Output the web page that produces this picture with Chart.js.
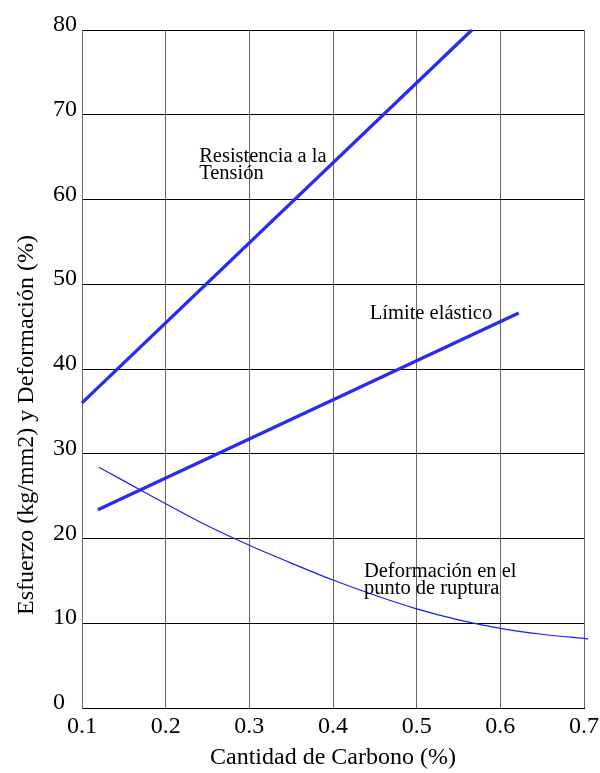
<!DOCTYPE html>
<html>
<head>
<meta charset="utf-8">
<title>Acero: esfuerzo y deformación vs carbono</title>
<script src="https://cdn.jsdelivr.net/npm/chart.js@4/dist/chart.umd.min.js"></script>
<style>
    html, body { margin: 0; padding: 0; background: #fff; }
    #wrap { width: 600px; height: 773px; }
</style>
</head>
<body>
<div id="wrap"><canvas id="carbonChart" width="600" height="773"></canvas></div>
<script>
// ---- data ----
const xTicks = [0.1, 0.2, 0.3, 0.4, 0.5, 0.6, 0.7];
const yTicks = [0, 10, 20, 30, 40, 50, 60, 70, 80];

const resistenciaX = [0.1, 0.566];
const resistenciaY = [36.0, 80];

const limiteX = [0.119, 0.622];
const limiteY = [23.4, 46.6];

const deformX = [0.12, 0.15, 0.2, 0.25, 0.3, 0.35, 0.4, 0.45, 0.5, 0.55, 0.6, 0.65, 0.705];
const deformY = [28.4, 26.8, 24.1, 21.5, 19.2, 17.1, 15.1, 13.3, 11.7, 10.4, 9.4, 8.7, 8.15];

const notes = [
    { lines: ['Resistencia a la', 'Tensión'], x: 0.24, y: 64.4 },
    { lines: ['Límite elástico'], x: 0.444, y: 45.9 },
    { lines: ['Deformación en el', 'punto de ruptura'], x: 0.437, y: 15.4 },
];

const SERIF = '"Liberation Serif", "Times New Roman", serif';
const toPoints = (xs, ys) => xs.map((x, i) => ({ x, y: ys[i] }));

// y tick labels, y title and the text notes sit where the library can't put them
const textPlugin = {
    id: 'textPlugin',
    afterDraw(chart) {
        const { ctx, scales: { x, y } } = chart;
        ctx.save();
        ctx.fillStyle = '#000';

        ctx.font = '24px ' + SERIF;
        ctx.textAlign = 'left';
        ctx.textBaseline = 'alphabetic';
        yTicks.forEach(v => ctx.fillText(String(v), 53, y.getPixelForValue(v) + 1));

        ctx.font = '20.5px ' + SERIF;
        notes.forEach(n => {
            const px = x.getPixelForValue(n.x);
            const py = y.getPixelForValue(n.y);
            n.lines.forEach((t, i) => ctx.fillText(t, px, py + i * 16.5));
        });

        ctx.translate(27, 425);
        ctx.rotate(-Math.PI / 2);
        ctx.font = '24px ' + SERIF;
        ctx.textAlign = 'center';
        ctx.textBaseline = 'middle';
        ctx.fillText('Esfuerzo (kg/mm2) y Deformación (%)', 0, 0);
        ctx.restore();
    }
};

new Chart(document.getElementById('carbonChart'), {
    type: 'line',
    data: {
        datasets: [
            {
                label: 'Resistencia a la Tensión', data: toPoints(resistenciaX, resistenciaY),
                borderColor: '#2a2af5', borderWidth: 3.3, pointRadius: 0, tension: 0, clip: false,
            },
            {
                label: 'Límite elástico', data: toPoints(limiteX, limiteY),
                borderColor: '#2a2af5', borderWidth: 3.3, pointRadius: 0, tension: 0, clip: false,
            },
            {
                label: 'Deformación en el punto de ruptura', data: toPoints(deformX, deformY),
                borderColor: '#1a1aff', borderWidth: 1.2, pointRadius: 0,
                cubicInterpolationMode: 'monotone', clip: false,
            },
        ]
    },
    options: {
        responsive: false, animation: false,
        layout: { padding: { left: 0, top: 30, right: 16, bottom: 0 } },
        plugins: { legend: { display: false }, tooltip: { enabled: false } },
        scales: {
            x: {
                type: 'linear', min: 0.1, max: 0.7,
                afterBuildTicks: s => { s.ticks = xTicks.map(v => ({ value: v })); },
                afterFit: s => { s.height = 65; s.paddingLeft = 0; s.paddingRight = 0; },
                grid: { color: '#666', lineWidth: 1, drawTicks: false },
                border: { color: '#000', width: 1 },
                ticks: {
                    color: '#000', font: { family: SERIF, size: 24 }, padding: 4, maxRotation: 0,
                    callback: v => Number(v).toFixed(1),
                },
                title: {
                    display: true, text: 'Cantidad de Carbono (%)', color: '#000',
                    font: { family: SERIF, size: 24 }, padding: { top: 0, bottom: 1 },
                },
            },
            y: {
                type: 'linear', min: 0, max: 80,
                afterBuildTicks: s => { s.ticks = yTicks.map(v => ({ value: v })); },
                afterFit: s => { s.width = 82; },
                grid: { color: '#000', lineWidth: 1, drawTicks: false },
                border: { color: '#666', width: 1 },
                ticks: { display: false },
            }
        }
    },
    plugins: [textPlugin]
});
</script>
</body>
</html>
